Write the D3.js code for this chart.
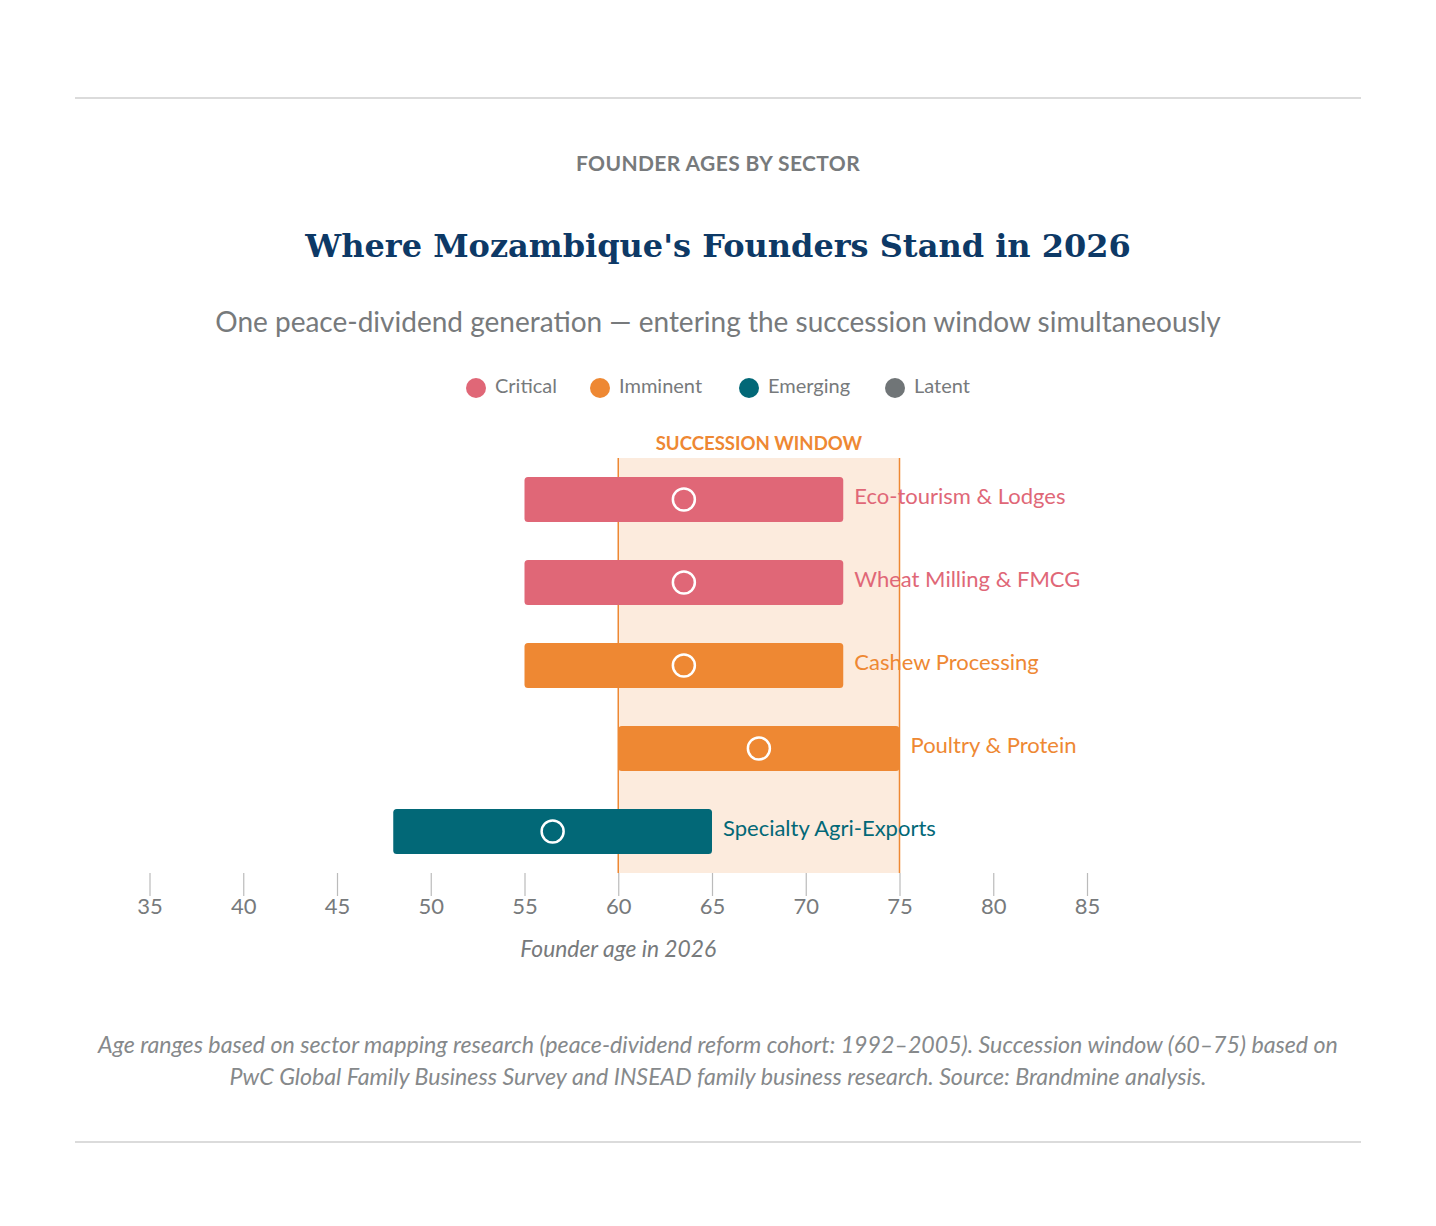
<!DOCTYPE html>
<html><head><meta charset="utf-8">
<script src="https://cdn.jsdelivr.net/npm/d3@7"></script>
<style>
html,body{margin:0;padding:0;background:#fff;}
svg{display:block;}
</style></head>
<body>
<script>
const sectors = ["Eco-tourism & Lodges", "Wheat Milling & FMCG", "Cashew Processing", "Poultry & Protein", "Specialty Agri-Exports"];
const minAge = [55, 55, 55, 60, 48];
const maxAge = [72, 72, 72, 75, 65];
const midAge = [63.5, 63.5, 63.5, 67.5, 56.5];
const sectorStatus = ["Critical", "Critical", "Imminent", "Imminent", "Emerging"];
const statuses = ["Critical", "Imminent", "Emerging", "Latent"];
const statusColors = ["#E06777", "#EE8833", "#026877", "#707577"];
const tickValues = [35, 40, 45, 50, 55, 60, 65, 70, 75, 80, 85];
const windowRange = [60, 75];

const W = 1436, H = 1226;
const SANS = "Lato, 'Noto Sans', sans-serif";
const SERIF = "'DejaVu Serif', 'Liberation Serif', serif";

const svg = d3.select("body").append("svg").attr("width", W).attr("height", H);

const color = d3.scaleOrdinal().domain(statuses).range(statusColors);
const x = d3.scaleLinear().domain([35, 85]).range([149.5, 1087]);
const y = d3.scaleBand().domain(sectors).range([458, 873]).paddingInner(0.46).paddingOuter(0.23);

// rules
svg.append("line").attr("x1", 75).attr("x2", 1361).attr("y1", 98).attr("y2", 98).attr("stroke", "#b8b8b8").attr("stroke-width", 1.2);
svg.append("line").attr("x1", 75).attr("x2", 1361).attr("y1", 1142).attr("y2", 1142).attr("stroke", "#b8b8b8").attr("stroke-width", 1.2);

// headings
svg.append("text").attr("x", 718).attr("y", 171).attr("text-anchor", "middle")
  .attr("font-family", SANS).attr("font-weight", 700).attr("font-size", 21).attr("letter-spacing", 0.4).attr("fill", "#777a7c")
  .text("FOUNDER AGES BY SECTOR");
svg.append("text").attr("x", 718).attr("y", 257).attr("text-anchor", "middle")
  .attr("font-family", SERIF).attr("font-weight", 700).attr("font-size", 32).attr("fill", "#0D3966")
  .text("Where Mozambique's Founders Stand in 2026");
svg.append("text").attr("x", 718).attr("y", 332).attr("text-anchor", "middle")
  .attr("font-family", SANS).attr("font-size", 28).attr("fill", "#777a7c")
  .text("One peace-dividend generation \u2014 entering the succession window simultaneously");

// legend
const legendX = [476, 600, 749, 895];
const lg = svg.append("g").selectAll("g").data(statuses).join("g")
  .attr("transform", (d, i) => `translate(${legendX[i]},388)`);
lg.append("circle").attr("r", 10).attr("fill", d => color(d));
lg.append("text").attr("x", 19).attr("y", 5).attr("font-family", SANS).attr("font-size", 20)
  .attr("fill", "#777a7c").text(d => d);

// succession window
svg.append("rect").attr("x", x(windowRange[0])).attr("width", x(windowRange[1]) - x(windowRange[0]))
  .attr("y", 458).attr("height", 415).attr("fill", "#FCEBDD");
svg.selectAll(".wl").data(windowRange).join("line").attr("class", "wl")
  .attr("x1", d => x(d)).attr("x2", d => x(d)).attr("y1", 458).attr("y2", 873)
  .attr("stroke", "#EE8833").attr("stroke-width", 1.5);
svg.append("text").attr("x", (x(windowRange[0]) + x(windowRange[1])) / 2).attr("y", 450)
  .attr("text-anchor", "middle").attr("font-family", SANS).attr("font-weight", 700)
  .attr("font-size", 18.6).attr("fill", "#EE8833").text("SUCCESSION WINDOW");

// axis
const axis = svg.append("g").attr("transform", "translate(0,873)")
  .call(d3.axisBottom(x).tickValues(tickValues).tickSize(23).tickSizeOuter(0).tickPadding(2));
axis.select(".domain").remove();
axis.selectAll(".tick line").attr("stroke", "#bbbbbb").attr("stroke-width", 1.2);
axis.selectAll(".tick text").attr("font-family", SANS).attr("font-size", 22).attr("fill", "#777a7c");
svg.append("text").attr("x", x(60)).attr("y", 957).attr("text-anchor", "middle")
  .attr("font-family", SANS).attr("font-style", "italic").attr("font-size", 22.8).attr("fill", "#777a7c")
  .text("Founder age in 2026");

// bars
const rows = sectors.map((s, i) => ({ s, lo: minAge[i], hi: maxAge[i], mid: midAge[i], st: sectorStatus[i] }));
const g = svg.append("g").selectAll("g").data(rows).join("g");
g.append("rect").attr("x", d => x(d.lo)).attr("width", d => x(d.hi) - x(d.lo))
  .attr("y", d => y(d.s)).attr("height", y.bandwidth()).attr("rx", 3.5)
  .attr("fill", d => color(d.st));
g.append("circle").attr("cx", d => x(d.mid)).attr("cy", d => y(d.s) + y.bandwidth() / 2)
  .attr("r", 11).attr("fill", "none").attr("stroke", "#fff").attr("stroke-width", 2.5);
g.append("text").attr("x", d => x(d.hi) + 11).attr("y", d => y(d.s) + y.bandwidth() / 2 - 1.5)
  .attr("dominant-baseline", "middle")
  .attr("font-family", SANS).attr("font-size", 22).attr("fill", d => color(d.st)).text(d => d.s);

// footnote
const foot = ["Age ranges based on sector mapping research (peace-dividend reform cohort: 1992\u20132005). Succession window (60\u201375) based on",
  "PwC Global Family Business Survey and INSEAD family business research. Source: Brandmine analysis."];
svg.append("g").selectAll("text").data(foot).join("text")
  .attr("x", 718).attr("y", (d, i) => 1053 + i * 32).attr("text-anchor", "middle")
  .attr("font-family", SANS).attr("font-style", "italic").attr("font-size", 23.2).attr("fill", "#86898b")
  .text(d => d);
</script>
</body></html>
